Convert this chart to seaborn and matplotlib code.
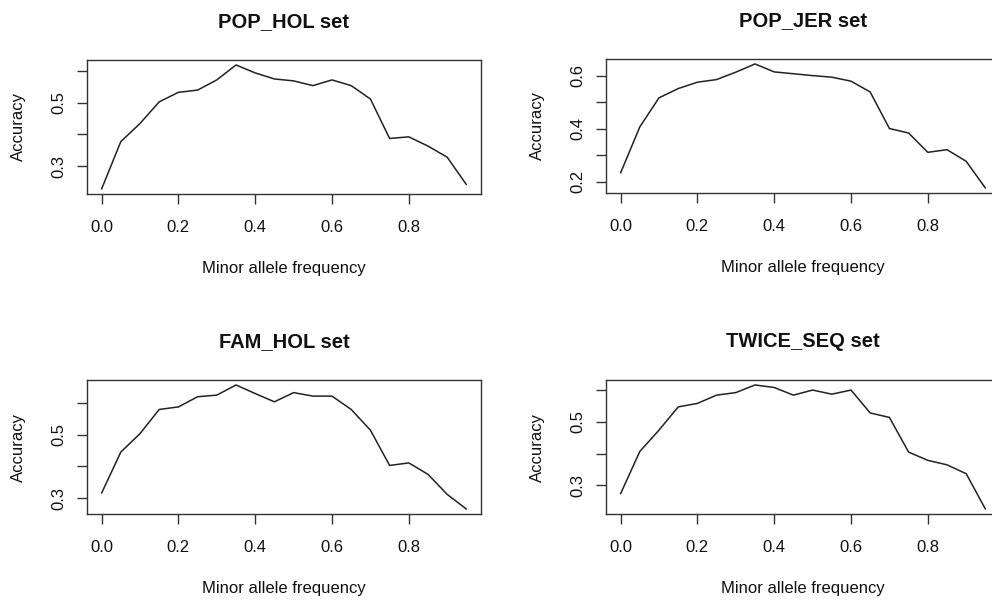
import matplotlib
matplotlib.use("Agg")
import matplotlib.pyplot as plt
import seaborn as sns
import pandas as pd

# Minor allele frequency bins (lower bounds)
maf = [0.00, 0.05, 0.10, 0.15, 0.20, 0.25, 0.30, 0.35, 0.40, 0.45,
       0.50, 0.55, 0.60, 0.65, 0.70, 0.75, 0.80, 0.85, 0.90, 0.95]

# Imputation accuracy per MAF bin for each reference set
pop_hol = [0.228, 0.377, 0.434, 0.502, 0.532, 0.539, 0.571, 0.618, 0.593, 0.574,
           0.568, 0.553, 0.571, 0.553, 0.511, 0.387, 0.392, 0.363, 0.328, 0.242]
pop_jer = [0.233, 0.407, 0.517, 0.552, 0.576, 0.586, 0.614, 0.645, 0.615, 0.608,
           0.601, 0.595, 0.580, 0.539, 0.401, 0.384, 0.311, 0.321, 0.277, 0.176]
fam_hol = [0.316, 0.445, 0.503, 0.579, 0.587, 0.619, 0.624, 0.656, 0.629, 0.603,
           0.632, 0.621, 0.621, 0.579, 0.514, 0.403, 0.411, 0.375, 0.312, 0.266]
twice_seq = [0.274, 0.407, 0.474, 0.547, 0.558, 0.584, 0.592, 0.616, 0.608, 0.584,
             0.600, 0.587, 0.600, 0.528, 0.514, 0.405, 0.379, 0.365, 0.337, 0.226]

titles = ["POP_HOL set", "POP_JER set", "FAM_HOL set", "TWICE_SEQ set"]
series = [pop_hol, pop_jer, fam_hol, twice_seq]

x_ticks = [0.0, 0.2, 0.4, 0.6, 0.8]
x_tick_labels = ["0.0", "0.2", "0.4", "0.6", "0.8"]

y_ticks = [
    [0.3, 0.4, 0.5, 0.6],
    [0.2, 0.3, 0.4, 0.5, 0.6],
    [0.3, 0.4, 0.5, 0.6],
    [0.3, 0.4, 0.5, 0.6],
]
y_tick_labels = [
    ["0.3", "", "0.5", ""],
    ["0.2", "", "0.4", "", "0.6"],
    ["0.3", "", "0.5", ""],
    ["0.3", "", "0.5", ""],
]

sns.set_style("white")
plt.rcParams["font.family"] = ["Liberation Sans", "DejaVu Sans"]

W, H = 992, 600
fig = plt.figure(figsize=(W / 100, H / 100), dpi=100)

# panel boxes in pixels: left, top
boxes = [(87, 60), (606, 59), (87, 380), (606, 380)]
bw, bh = 394, 134

frame_col = "#333333"
for i, (title, vals) in enumerate(zip(titles, series)):
    left, top = boxes[i]
    ax = fig.add_axes([left / W, 1 - (top + bh) / H, bw / W, bh / H])
    df = pd.DataFrame({"maf": maf, "acc": vals})
    sns.lineplot(data=df, x="maf", y="acc", ax=ax, color="#222222", lw=1.1)

    # R-style 4% axis padding
    xr = max(maf) - min(maf)
    ax.set_xlim(min(maf) - 0.04 * xr, max(maf) + 0.04 * xr)
    yr = max(vals) - min(vals)
    ax.set_ylim(min(vals) - 0.04 * yr, max(vals) + 0.04 * yr)

    ax.set_xticks(x_ticks)
    ax.set_xticklabels(x_tick_labels)
    ax.set_yticks(y_ticks[i])
    ax.set_yticklabels(y_tick_labels[i], rotation=90, va="center")

    ax.tick_params(axis="both", which="major", length=7.5, width=1.0,
                   color=frame_col, labelsize=12, labelcolor="#111111",
                   bottom=True, left=True, direction="out")
    ax.tick_params(axis="x", pad=11.5)
    ax.tick_params(axis="y", pad=7.5)
    for s in ax.spines.values():
        s.set_visible(True)
        s.set_color(frame_col)
        s.set_linewidth(1.0)

    ax.set_title(title, fontsize=14.5, fontweight="bold", pad=24, color="#111111")
    ax.set_xlabel("Minor allele frequency", fontsize=12, color="#111111")
    ax.set_ylabel("Accuracy", fontsize=12, color="#111111")
    ax.xaxis.set_label_coords(0.5, -0.50)
    ax.yaxis.set_label_coords(-0.154, 0.5)
    ax.grid(False)

fig.savefig("out.png", dpi=100, facecolor="white")
